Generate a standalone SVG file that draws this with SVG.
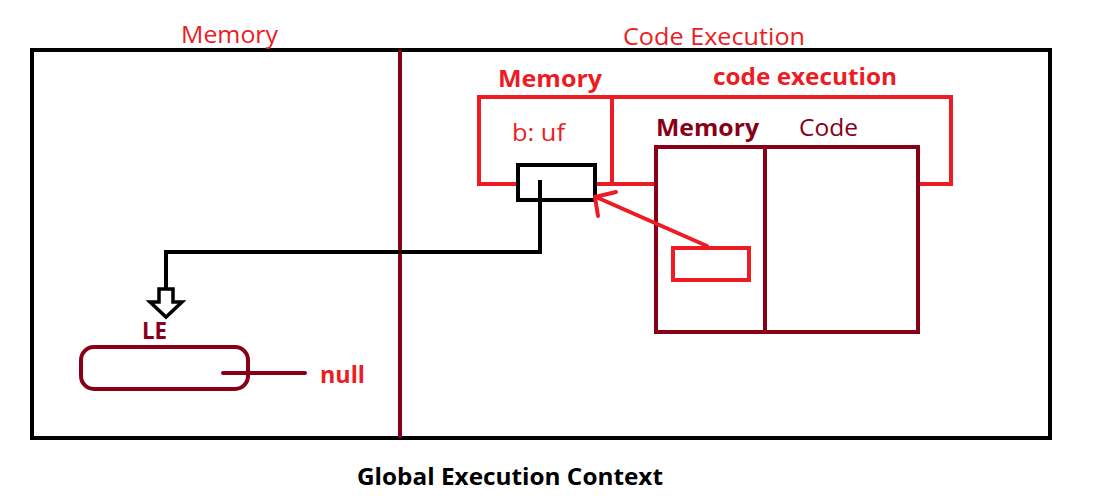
<svg xmlns="http://www.w3.org/2000/svg" width="1099" height="496" viewBox="0 0 1099 496">
<style>
text{font-family:"Open Sans","Noto Sans","DejaVu Sans",sans-serif;}
.r{fill:#ED1C24;}
.d{fill:#880015;}
.k{fill:#000;}
.b{font-weight:700;}
.n{font-weight:500;}
.sr{fill:none;stroke:#ED1C24;stroke-width:4;}
.sd{fill:none;stroke:#880015;stroke-width:4;}
.sk{fill:none;stroke:#000;stroke-width:4;}
</style>
<rect width="1099" height="496" fill="#fff"/>
<g id="gec">
<rect x="32" y="50" width="1018" height="388" class="sk"/>
<line x1="400" y1="50" x2="400" y2="438" class="sd"/>
<text x="181" y="43" class="r n" font-size="24" textLength="97" lengthAdjust="spacingAndGlyphs">Memory</text>
<text x="623" y="45" class="r n" font-size="24" textLength="182" lengthAdjust="spacingAndGlyphs">Code Execution</text>
<text x="357" y="485" class="k b" font-size="24" textLength="306" lengthAdjust="spacingAndGlyphs">Global Execution Context</text>
</g>
<g id="fec">
<rect x="479" y="97" width="472" height="87" class="sr"/>
<line x1="612" y1="97" x2="612" y2="184" class="sr"/>
<text x="498" y="87" class="r b" font-size="24" textLength="104" lengthAdjust="spacingAndGlyphs">Memory</text>
<text x="713" y="85" class="r b" font-size="24" textLength="184" lengthAdjust="spacingAndGlyphs">code execution</text>
<text x="512" y="141" class="r n" font-size="24" textLength="53" lengthAdjust="spacingAndGlyphs">b: uf</text>
</g>
<g id="inner">
<rect x="656" y="147" width="262" height="185" fill="#fff" stroke="#880015" stroke-width="4"/>
<line x1="765" y1="147" x2="765" y2="332" class="sd"/>
<text x="656" y="136" class="d b" font-size="24" textLength="103" lengthAdjust="spacingAndGlyphs">Memory</text>
<text x="799" y="136" class="d n" font-size="24" textLength="59" lengthAdjust="spacingAndGlyphs">Code</text>
</g>
<g id="inner-slot">
<rect x="673" y="248" width="76" height="32" class="sr"/>
</g>
<g id="b-box">
<rect x="518" y="165" width="77" height="35" fill="#fff" stroke="#000" stroke-width="4"/>
</g>
<g id="le">
<text x="142" y="339" class="d b" font-size="24" textLength="25" lengthAdjust="spacingAndGlyphs">LE</text>
<rect x="81" y="347" width="167" height="42" rx="13" class="sd"/>
<text x="320" y="383" class="r b" font-size="24" textLength="45" lengthAdjust="spacingAndGlyphs">null</text>
</g>
<g id="connectors">
<path d="M540,180 V252 H166 V289" fill="none" stroke="#000" stroke-width="4"/>
<polygon points="159,289 173,289 173,302 182,302 166,317 150,302 159,302" fill="#fff" stroke="#000" stroke-width="3.5" stroke-linejoin="miter"/>
<line x1="707" y1="246" x2="596" y2="197" stroke="#ED1C24" stroke-width="4" stroke-linecap="round"/>
<polyline points="616,192 595,197 598,216" fill="none" stroke="#ED1C24" stroke-width="4" stroke-linecap="round" stroke-linejoin="round"/>
<line x1="223" y1="373" x2="305" y2="373" stroke="#880015" stroke-width="4" stroke-linecap="round"/>
</g>
</svg>
